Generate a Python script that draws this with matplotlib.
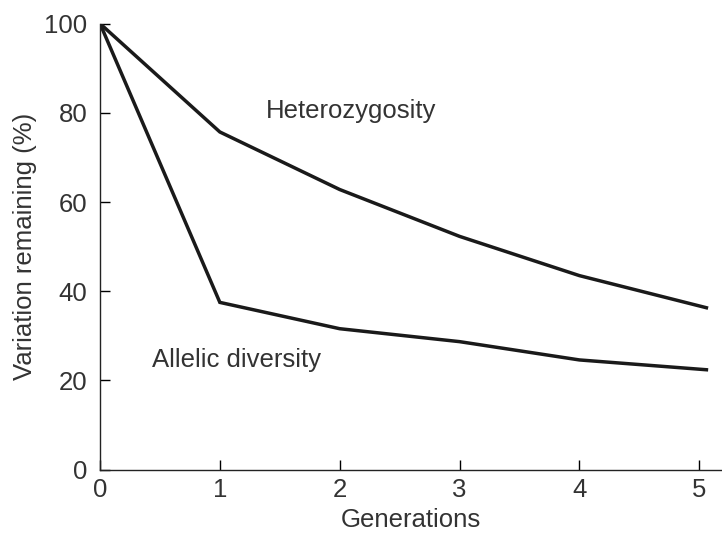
import matplotlib
matplotlib.use("Agg")
import matplotlib.pyplot as plt

plt.rcParams["font.family"] = ["Liberation Sans", "DejaVu Sans"]

# Values
generations = [0, 1, 2, 3, 4, 5.06]
heterozygosity = [100, 75.7, 62.8, 52.3, 43.5, 36.3]
allelic_diversity = [100, 37.5, 31.6, 28.7, 24.6, 22.4]
x_ticks = [0, 1, 2, 3, 4, 5]
y_ticks = [0, 20, 40, 60, 80, 100]

text_color = "#333333"
fs = 18.5

fig = plt.figure(figsize=(7.22, 5.33), dpi=100)
ax = fig.add_axes([0.1385, 0.1188, 0.8615, 0.8370])

ax.plot(generations, heterozygosity, color="#1a1a1a", linewidth=2.5, solid_joinstyle="miter")
ax.plot(generations, allelic_diversity, color="#1a1a1a", linewidth=2.5, solid_joinstyle="miter")

ax.text(1.38, 80.5, "Heterozygosity", fontsize=fs, color=text_color, va="center")
ax.text(0.43, 24.5, "Allelic diversity", fontsize=fs, color=text_color, va="center")

ax.set_xlim(0, 5.19)
ax.set_ylim(0, 100)
ax.set_xticks(x_ticks)
ax.set_yticks(y_ticks)
ax.tick_params(direction="in", length=7, width=1, labelsize=fs, labelcolor=text_color)
ax.tick_params(axis="x", pad=6)
ax.tick_params(axis="y", pad=9)

for side in ["top", "right"]:
    ax.spines[side].set_visible(False)
for side in ["left", "bottom"]:
    ax.spines[side].set_linewidth(1)
    ax.spines[side].set_color("#222222")

ax.set_xlabel("Generations", fontsize=fs, color=text_color, labelpad=4)
ax.set_ylabel("Variation remaining (%)", fontsize=fs, color=text_color, labelpad=5)

fig.savefig("out.png", dpi=100)
